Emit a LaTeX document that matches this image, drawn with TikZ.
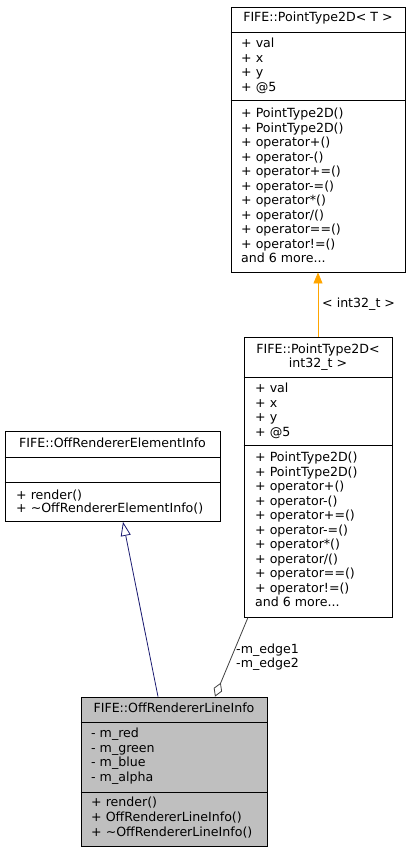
\documentclass[tikz,border=0pt]{standalone}
\usepackage{fontspec}
\setmainfont{DejaVu Sans}
\usetikzlibrary{arrows.meta}
\definecolor{edgenavy}{HTML}{191970}
\definecolor{edgeorange}{HTML}{FFA500}
\definecolor{edgegrey}{HTML}{404040}
\definecolor{clsgrey}{HTML}{BFBFBF}
\begin{document}
\begin{tikzpicture}[x=1pt,y=-1pt,
  cls/.style={draw=black, line width=0.8pt, fill=white, inner sep=0pt},
  sepline/.style={draw=black, line width=0.8pt},
  txt/.style={anchor=base west, inner sep=0pt, font=\fontsize{12.6}{14.5}\selectfont},
  ttl/.style={anchor=base, inner sep=0pt, font=\fontsize{12.6}{14.5}\selectfont},
  lbl/.style={anchor=base west, inner sep=0pt, font=\fontsize{12.6}{14.5}\selectfont}]
\useasboundingbox (0,0) rectangle (411,852);

% Box 1: FIFE::PointType2D< T >
\node[cls, minimum width=174pt, minimum height=265pt] (pt) at (318,139.5) {};
\draw[sepline] (pt.west |- 0,32) -- (pt.east |- 0,32);
\draw[sepline] (pt.west |- 0,100) -- (pt.east |- 0,100);
\node[ttl] (ptT) at (318,21.5) {FIFE::PointType2D< T >};
\foreach \t [count=\i] in {+ val,+ x,+ y,+ @5}
  \node[txt] (ptA\i) at (241,{47.5+14.5*(\i-1)}) {\t};
\foreach \t [count=\i] in {+ PointType2D(),+ PointType2D(),+ operator+(),+ operator-(),+ operator+=(),+ operator-=(),+ operator*(),+ operator/(),+ operator==(),+ operator!=()}
  \node[txt] (ptM\i) at (241,{117.5+14.5*(\i-1)}) {\t};
\node[txt] (ptMore) at (241,262.5) {and 6 more...};

% Box 2: FIFE::PointType2D< int32_t >
\node[cls, minimum width=148pt, minimum height=280pt] (pi) at (318,477) {};
\draw[sepline] (pi.west |- 0,377) -- (pi.east |- 0,377);
\draw[sepline] (pi.west |- 0,445) -- (pi.east |- 0,445);
\node[ttl] (piT1) at (318,353.5) {FIFE::PointType2D<};
\node[ttl] (piT2) at (318,367) {int32\_t >};
\foreach \t [count=\i] in {+ val,+ x,+ y,+ @5}
  \node[txt] (piA\i) at (255,{392.5+14.5*(\i-1)}) {\t};
\foreach \t [count=\i] in {+ PointType2D(),+ PointType2D(),+ operator+(),+ operator-(),+ operator+=(),+ operator-=(),+ operator*(),+ operator/(),+ operator==(),+ operator!=()}
  \node[txt] (piM\i) at (255,{461.5+14.5*(\i-1)}) {\t};
\node[txt] (piMore) at (255,606.5) {and 6 more...};

% Box 3: FIFE::OffRendererElementInfo
\node[cls, minimum width=215pt, minimum height=90pt] (ei) at (112.5,476.5) {};
\draw[sepline] (ei.west |- 0,457) -- (ei.east |- 0,457);
\draw[sepline] (ei.west |- 0,482) -- (ei.east |- 0,482);
\node[ttl] (eiT) at (112.5,447.5) {FIFE::OffRendererElementInfo};
\node[txt] (eiM1) at (16,499.5) {+ render()};
\node[txt] (eiM2) at (16,512.5) {+ \textasciitilde{}OffRendererElementInfo()};

% Box 4: FIFE::OffRendererLineInfo
\node[cls, fill=clsgrey, minimum width=186pt, minimum height=149pt] (li) at (174,771.5) {};
\draw[sepline] (li.west |- 0,722) -- (li.east |- 0,722);
\draw[sepline] (li.west |- 0,792) -- (li.east |- 0,792);
\node[ttl] (liT) at (174,712.5) {FIFE::OffRendererLineInfo};
\foreach \t [count=\i] in {- m\_red,- m\_green,- m\_blue,- m\_alpha}
  \node[txt] (liA\i) at (91,{737.5+14.5*(\i-1)}) {\t};
\node[txt] (liM1) at (91,806.5) {+ render()};
\node[txt] (liM2) at (91,821.5) {+ OffRendererLineInfo()};
\node[txt] (liM3) at (91,836.5) {+ \textasciitilde{}OffRendererLineInfo()};

% Connectors
\draw[edgeorange, line width=0.8pt, -{Triangle[length=11pt,width=9pt]}] (pi.north) -- (pt.south);
\node[lbl] (lblT) at (322,307.5) {< int32\_t >};

\draw[edgenavy, line width=0.8pt, -{Triangle[open,fill=white,length=14pt,width=10pt]}] ([xshift=-16pt]li.north) -- ([xshift=10.5pt]ei.south);

\draw[edgegrey, line width=0.8pt, -{Diamond[open,fill=white,length=15pt,width=9pt]}] ([xshift=-70pt]pi.south) -- ([xshift=41pt]li.north);
\node[lbl] (lblE1) at (236,653.5) {-m\_edge1};
\node[lbl] (lblE2) at (236,667.5) {-m\_edge2};
\end{tikzpicture}
\end{document}
